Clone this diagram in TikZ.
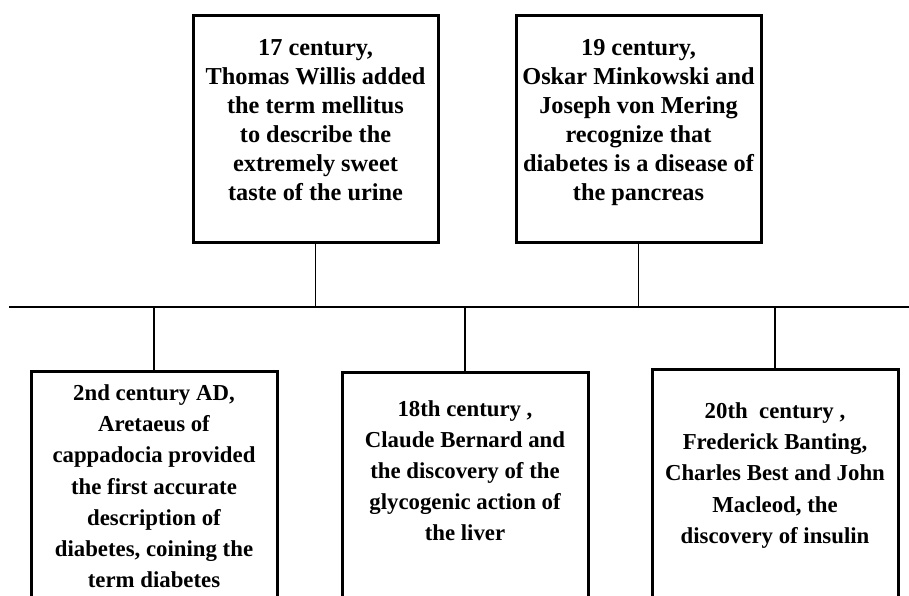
\documentclass[tikz,border=0pt]{standalone}
\usepackage{fontspec}
\setmainfont{Liberation Serif}
\begin{document}
\begin{tikzpicture}[x=1pt,y=-1pt,
  eventbox/.style={draw=black,line width=3pt,fill=white,inner sep=0pt},
  link/.style={draw=black,line width=1.4pt},
  toptext/.style={anchor=north,align=center,inner sep=0pt,
    font=\bfseries\fontsize{24.3}{29}\selectfont},
  bottext/.style={anchor=north,align=center,inner sep=0pt,
    font=\bfseries\fontsize{22.8}{31.2}\selectfont}]
\useasboundingbox (0,0) rectangle (909,595);
\clip (0,0) rectangle (909,595);

% timeline axis
\coordinate (axisL) at (9,307);
\coordinate (axisR) at (909,307);
\draw[line width=2pt] (axisL) -- (axisR);

% event boxes above the axis
\node[eventbox,minimum width=245pt,minimum height=227pt] (b17) at (315.5,128.5) {};
\node[eventbox,minimum width=245pt,minimum height=227pt] (b19) at (638.5,128.5) {};
% event boxes below the axis (running off the bottom edge)
\node[eventbox,minimum width=246pt,minimum height=240pt] (b2) at (154,491) {};
\node[eventbox,minimum width=246pt,minimum height=240pt] (b18) at (465,492) {};
\node[eventbox,minimum width=246pt,minimum height=240pt] (b20) at (775,489) {};

% ticks joining the boxes to the axis
\coordinate (t17) at (b17.south |- axisL);
\coordinate (t19) at (b19.south |- axisL);
\coordinate (t2) at (b2.north |- axisL);
\coordinate (t18) at (b18.north |- axisL);
\coordinate (t20) at (b20.north |- axisL);
\draw[link] (b17.south) -- (t17);
\draw[link] (b19.south) -- (t19);
\draw[link] (b2.north) -- (t2);
\draw[link] (b18.north) -- (t18);
\draw[link] (b20.north) -- (t20);

% box texts
\node[toptext] (l17) at ([yshift=-26pt]b17.north) {17 century,\\Thomas Willis added\\the term mellitus\\ to describe the\\extremely sweet\\taste of the urine};
\node[toptext] (l19) at ([yshift=-26pt]b19.north) {19 century,\\Oskar Minkowski and\\Joseph von Mering\\recognize that\\diabetes is a disease of\\the pancreas};
\node[bottext] (l2) at ([yshift=-15pt]b2.north) {2nd century AD,\\Aretaeus of\\cappadocia provided\\the first accurate\\description of\\diabetes, coining the\\term diabetes};
\node[bottext] (l18) at ([yshift=-29.5pt]b18.north) {18th century ,\\Claude Bernard and\\the discovery of the\\glycogenic action of\\the liver};
\node[bottext] (l20) at ([yshift=-35pt]b20.north) {20th\ \ century ,\\Frederick Banting,\\Charles Best and John\\Macleod, the\\discovery of insulin};
\end{tikzpicture}
\end{document}
